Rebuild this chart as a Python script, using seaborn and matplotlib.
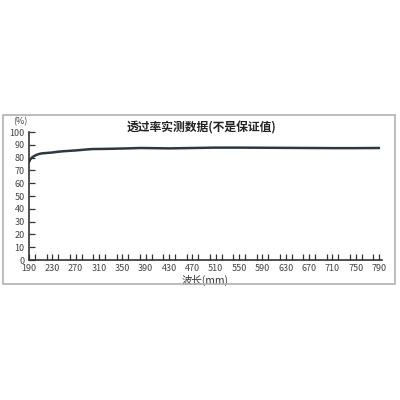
import numpy as np
import pandas as pd
import seaborn as sns
import matplotlib.pyplot as plt
from matplotlib.patches import Rectangle
from matplotlib.ticker import MultipleLocator

# wavelength readings and measured transmittance (%)
wavelength = [190, 192, 195, 198, 202, 207, 212, 220, 230, 240, 250, 260, 270,
              280, 290, 300, 320, 340, 360, 380, 400, 430, 470, 510, 550, 590,
              630, 670, 710, 750, 790]
transmittance = [76.5, 78.5, 80.0, 81.0, 82.0, 82.8, 83.3, 83.6, 84.0, 84.6, 85.0,
                 85.3, 85.6, 86.0, 86.4, 86.7, 86.8, 87.0, 87.2, 87.5, 87.4, 87.2,
                 87.5, 87.8, 87.8, 87.7, 87.6, 87.5, 87.4, 87.4, 87.5]
x_ticks = list(range(190, 791, 40))
y_ticks = list(range(0, 101, 10))

df = pd.DataFrame({"wavelength": wavelength, "transmittance": transmittance})

sns.set_style("white")
plt.rcParams['font.family'] = ['Noto Sans CJK SC', 'DejaVu Sans']

fig = plt.figure(figsize=(4, 4), dpi=100)
fig.patch.set_facecolor("white")

# grey frame round the chart
fig.patches.append(Rectangle((3 / 400, 1 - 284 / 400), 392 / 400, 169 / 400,
                             transform=fig.transFigure, fill=False,
                             edgecolor="#b0b0b0", linewidth=1.2))

ax = fig.add_axes([29 / 400, 1 - 260 / 400, 353 / 400, 128 / 400])
sns.lineplot(data=df, x="wavelength", y="transmittance", ax=ax,
             color="#2c3a40", linewidth=1.8)

ax.set_xlim(190, 795)
ax.set_ylim(0, 100)
ax.set_xticks(x_ticks)
ax.set_yticks(y_ticks)
ax.xaxis.set_minor_locator(MultipleLocator(20))
ax.tick_params(axis="both", which="both", direction="in", colors="#333333",
               labelsize=6.5, length=4, width=0.9, pad=3,
               bottom=True, left=True)
for lab in ax.get_xticklabels() + ax.get_yticklabels():
    lab.set_color("#444444")

for side in ["top", "right"]:
    ax.spines[side].set_visible(False)
for side in ["left", "bottom"]:
    ax.spines[side].set_color("#333333")
    ax.spines[side].set_linewidth(1.2)

ax.set_xlabel("波长(mm)", fontsize=7.5, color="#333333", labelpad=1)
ax.set_ylabel("")
ax.text(-0.025, 1.078, "(%)", transform=ax.transAxes, fontsize=6.5,
        color="#444444", ha="center", va="center")
fig.text(201 / 400, 1 - 127 / 400, "透过率实测数据(不是保证值)", fontsize=8.5,
         fontweight="bold", ha="center", va="center", color="#222222")

fig.savefig("out.png", dpi=100, facecolor="white")
